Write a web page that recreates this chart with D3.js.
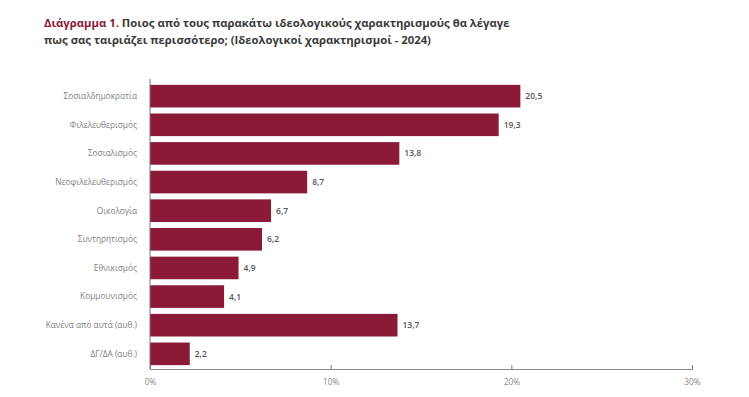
<!DOCTYPE html>
<html>
<head>
<meta charset="utf-8">
<script src="https://cdn.jsdelivr.net/npm/d3@7"></script>
<style>
  body { margin: 0; background: #fff; }
  svg { font-family: "Open Sans", sans-serif; }
</style>
</head>
<body>
<svg width="749" height="397"></svg>
<script>
// categories and values (percent)
const categories = [
  'Σοσιαλδημοκρατία', 'Φιλελευθερισμός', 'Σοσιαλισμός', 'Νεοφιλελευθερισμός',
  'Οικολογία', 'Συντηρητισμός', 'Εθνικισμός', 'Κομμουνισμός',
  'Κανένα από αυτά (αυθ.)', 'ΔΓ/ΔΑ (αυθ.)'
];
const values = [20.5, 19.3, 13.8, 8.7, 6.7, 6.2, 4.9, 4.1, 13.7, 2.2];
const ticks = [0, 10, 20, 30];

const BAR = '#8b1a39';

const svg = d3.select('svg');

// title, two lines
const title = svg.append('text')
  .attr('x', 44).attr('y', 27)
  .attr('font-size', 11.3).attr('font-weight', 700).attr('fill', '#3a3a3a');
title.append('tspan').attr('fill', BAR).text('Διάγραμμα 1. ');
title.append('tspan').text('Ποιος από τους παρακάτω ιδεολογικούς χαρακτηρισμούς θα λέγαγε');
svg.append('text')
  .attr('x', 44).attr('y', 44)
  .attr('font-size', 11.3).attr('font-weight', 700).attr('fill', '#3a3a3a')
  .text('πως σας ταιριάζει περισσότερο; (Ιδεολογικοί χαρακτηρισμοί - 2024)');

const x = d3.scaleLinear().domain([0, 30]).range([150, 692]);
const y = d3.scaleBand().domain(categories).range([82, 368]).paddingInner(0.21).paddingOuter(0.1);

// bars
svg.selectAll('rect.bar').data(values).join('rect')
  .attr('class', 'bar')
  .attr('x', x(0))
  .attr('y', (d, i) => y(categories[i]))
  .attr('width', d => x(d) - x(0))
  .attr('height', y.bandwidth())
  .attr('fill', BAR);

// value labels
svg.selectAll('text.val').data(values).join('text')
  .attr('class', 'val')
  .attr('x', d => x(d) + 5)
  .attr('y', (d, i) => y(categories[i]) + y.bandwidth() / 2)
  .attr('dy', '0.35em')
  .attr('font-size', 8.5).attr('font-weight', 600).attr('fill', '#555')
  .text(d => d3.format('.1f')(d).replace('.', ','));

// category labels
svg.selectAll('text.cat').data(categories).join('text')
  .attr('class', 'cat')
  .attr('x', 137)
  .attr('y', d => y(d) + y.bandwidth() / 2)
  .attr('dy', '0.35em')
  .attr('text-anchor', 'end')
  .attr('font-size', 8.3).attr('fill', '#7e7e7e')
  .text(d => d);

// y axis line
svg.append('line')
  .attr('x1', x(0)).attr('x2', x(0))
  .attr('y1', 79).attr('y2', 369)
  .attr('stroke', '#777').attr('stroke-width', 1);

// x axis
const xAxis = svg.append('g').attr('transform', 'translate(0,369)')
  .call(d3.axisBottom(x).tickValues(ticks).tickSize(-4).tickPadding(10).tickFormat(d => d + '%'));
xAxis.select('.domain').attr('stroke', '#888');
xAxis.selectAll('.tick line').attr('stroke', '#777');
xAxis.selectAll('.tick text')
  .attr('font-family', '"Open Sans", sans-serif')
  .attr('font-size', 8.3).attr('fill', '#8a8a8a');
</script>
</body>
</html>
